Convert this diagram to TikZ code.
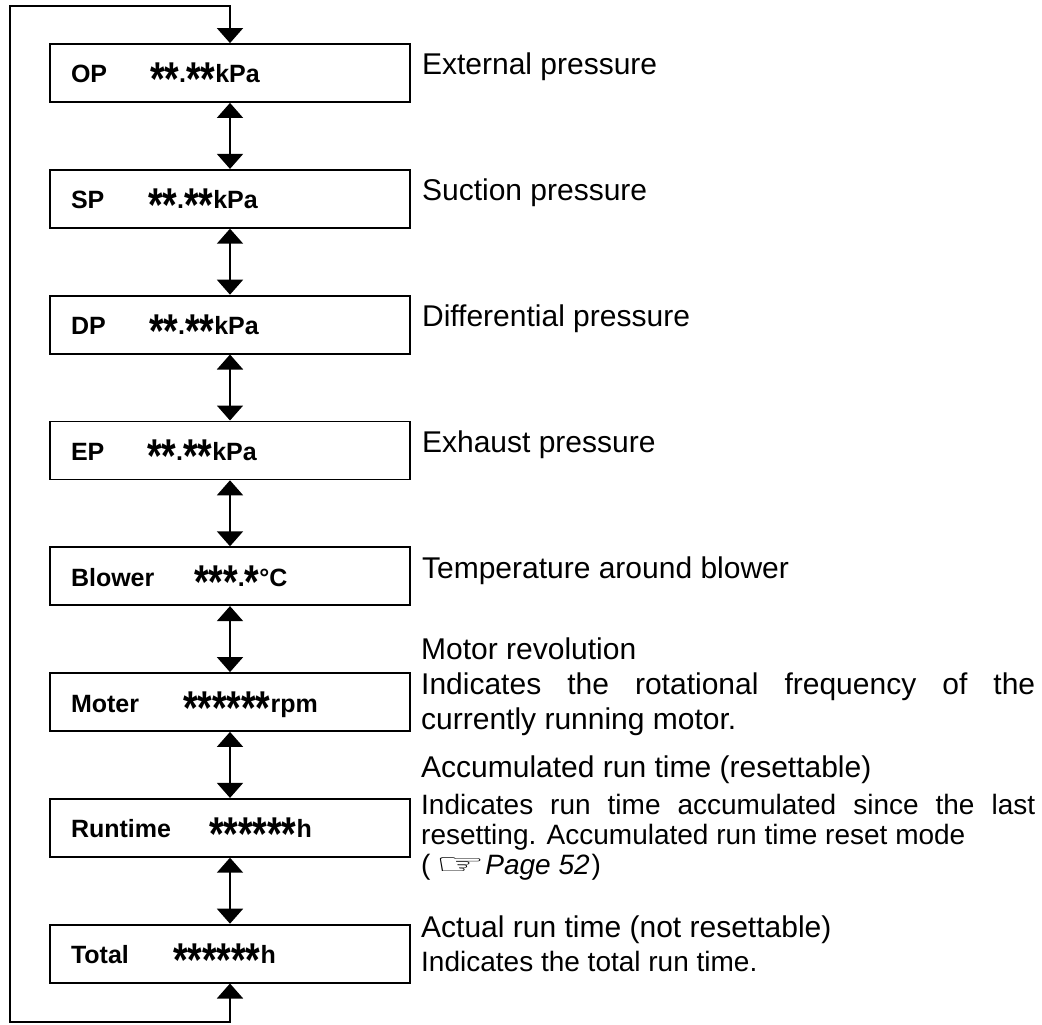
\documentclass[tikz,border=0pt]{standalone}
\usepackage{fontspec}
\usepackage{graphicx}
\setmainfont{Liberation Sans}
\newfontfamily\symfont{DejaVu Sans}
\usetikzlibrary{arrows.meta, positioning}
\hyphenpenalty=10000
\exhyphenpenalty=10000
\newcommand{\dg}{\raisebox{-0.5em}[0.62em][0pt]{\scalebox{1.5}[1.9]{*}}}
\newcommand{\disp}[3]{\makebox[#2pt][l]{#1}#3}
\tikzset{
    dispbox/.style={rectangle, draw, line width=1.8pt, minimum width=360pt, minimum height=58pt, inner xsep=21pt, text width=318pt, align=left, text height=20pt, text depth=0pt, font=\fontsize{25}{28}\selectfont\bfseries},
    lbl/.style={inner sep=0pt, anchor=base west, font=\fontsize{30}{35}\selectfont},
    note/.style={inner sep=0pt, anchor=north west, text width=614pt, align=justify, font=\fontsize{30}{35}\selectfont},
    smallnote/.style={note, font=\fontsize{28}{30}\selectfont},
    arrow/.style={{Triangle[width=26pt,length=15pt]}-{Triangle[width=26pt,length=15pt]}, line width=1.8pt},
}

\begin{document}
\begin{tikzpicture}[x=1pt, y=-1pt]
\useasboundingbox (0,0) rectangle (1042,1025);
% display screens
\node[dispbox] (op) at (230,73) {\disp{OP}{79}{\dg\dg.\dg\dg kPa}};
\node[dispbox, below=66pt of op] (sp) {\disp{SP}{77}{\dg\dg.\dg\dg kPa}};
\node[dispbox, below=66pt of sp] (dp) {\disp{DP}{78}{\dg\dg.\dg\dg kPa}};
\node[dispbox, below=66pt of dp] (ep) {\disp{EP}{76}{\dg\dg.\dg\dg kPa}};
\node[dispbox, below=66pt of ep] (bl) {\disp{Blower}{123}{\dg\dg\dg.\dg °C}};
\node[dispbox, below=66pt of bl] (mt) {\disp{Moter}{112}{\dg\dg\dg\dg\dg\dg rpm}};
\node[dispbox, below=66pt of mt] (rt) {\disp{Runtime}{138}{\dg\dg\dg\dg\dg\dg h}};
\node[dispbox, below=66pt of rt] (tt) {\disp{Total}{102}{\dg\dg\dg\dg\dg\dg h}};

% descriptions
\node[right=11pt of op, lbl, yshift=-2pt] (opl) {External pressure};
\node[right=11pt of sp, lbl, yshift=-2pt] (spl) {Suction pressure};
\node[right=11pt of dp, lbl, yshift=-2pt] (dpl) {Differential pressure};
\node[right=11pt of ep, lbl, yshift=-2pt] (epl) {Exhaust pressure};
\node[right=11pt of bl, lbl, yshift=-2pt] (bll) {Temperature around blower};
\node[note] (mtl) at (421,638) {Motor revolution\\Indicates the rotational frequency of the currently running motor.};
\node[lbl] (rtl) at (421,777) {Accumulated run time (resettable)};
\node[smallnote] (rtn) at (421,794) {Indicates run time accumulated since the last resetting. Accumulated run time reset mode\\(\,{\symfont\scalebox{2}[1.05]{☞}}\textit{Page 52}\hspace{2pt})};
\node[lbl] (ttl) at (421,937) {Actual run time (not resettable)};
\node[lbl, font=\fontsize{28}{30}\selectfont] (ttn) at (421,971) {Indicates the total run time.};

% connectors
\coordinate (lt) at (10,6);
\coordinate (lb) at (10,1022);
\draw[arrow] (op) -- (sp);
\draw[arrow] (sp) -- (dp);
\draw[arrow] (dp) -- (ep);
\draw[arrow] (ep) -- (bl);
\draw[arrow] (bl) -- (mt);
\draw[arrow] (mt) -- (rt);
\draw[arrow] (rt) -- (tt);
\draw[arrow] (tt.south) -- (tt.south |- lb) -| (lt) -| (op.north);
\end{tikzpicture}
\end{document}
